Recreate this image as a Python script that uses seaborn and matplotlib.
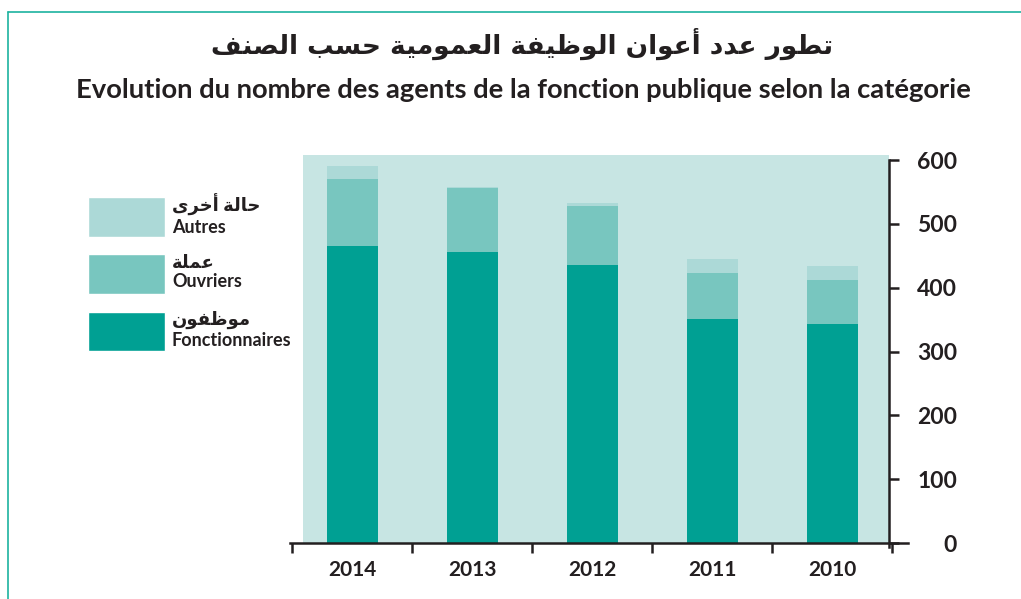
import matplotlib
matplotlib.use("Agg")
import matplotlib.pyplot as plt
import seaborn as sns
import pandas as pd
from matplotlib.lines import Line2D
from matplotlib.patches import Patch

years = ["2014", "2013", "2012", "2011", "2010"]
fonctionnaires = [465, 456, 436, 351, 343]
ouvriers = [105, 100, 92, 72, 69]
autres = [21, 2, 5, 22, 22]
yticks = [0, 100, 200, 300, 400, 500, 600]

title_ar = "تطور عدد أعوان الوظيفة العمومية حسب الصنف"
title_fr = "Evolution du nombre des agents de la fonction publique selon la catégorie"
lab_ar = ["حالة أخرى", "عملة", "موظفون"]
lab_fr = ["Autres", "Ouvriers", "Fonctionnaires"]

c_bg = "#c7e5e3"
c_fonc = "#00a093"
c_ouv = "#78c6bf"
c_aut = "#acd9d7"
c_ink = "#231f20"

# simple arabic shaping (matplotlib has no shaping / rtl)
FORMS = {
    '\u0627': (0xFE8D, 0xFE8E, None, None), '\u0623': (0xFE83, 0xFE84, None, None),
    '\u0628': (0xFE8F, 0xFE90, 0xFE91, 0xFE92), '\u0629': (0xFE93, 0xFE94, None, None),
    '\u062A': (0xFE95, 0xFE96, 0xFE97, 0xFE98), '\u062D': (0xFEA1, 0xFEA2, 0xFEA3, 0xFEA4),
    '\u062E': (0xFEA5, 0xFEA6, 0xFEA7, 0xFEA8), '\u062F': (0xFEA9, 0xFEAA, None, None),
    '\u0631': (0xFEAD, 0xFEAE, None, None), '\u0633': (0xFEB1, 0xFEB2, 0xFEB3, 0xFEB4),
    '\u0635': (0xFEB9, 0xFEBA, 0xFEBB, 0xFEBC), '\u0637': (0xFEC1, 0xFEC2, 0xFEC3, 0xFEC4),
    '\u0638': (0xFEC5, 0xFEC6, 0xFEC7, 0xFEC8), '\u0639': (0xFEC9, 0xFECA, 0xFECB, 0xFECC),
    '\u0641': (0xFED1, 0xFED2, 0xFED3, 0xFED4), '\u0644': (0xFEDD, 0xFEDE, 0xFEDF, 0xFEE0),
    '\u0645': (0xFEE1, 0xFEE2, 0xFEE3, 0xFEE4), '\u0646': (0xFEE5, 0xFEE6, 0xFEE7, 0xFEE8),
    '\u0647': (0xFEE9, 0xFEEA, 0xFEEB, 0xFEEC), '\u0648': (0xFEED, 0xFEEE, None, None),
    '\u0649': (0xFEEF, 0xFEF0, None, None), '\u064A': (0xFEF1, 0xFEF2, 0xFEF3, 0xFEF4),
}


def shape(s):
    out = []
    for i, ch in enumerate(s):
        if ch not in FORMS:
            out.append(ch)
            continue
        f = FORMS[ch]
        prev = s[i - 1] if i > 0 else ""
        nxt = s[i + 1] if i + 1 < len(s) else ""
        cp = prev in FORMS and FORMS[prev][2] is not None
        cn = f[2] is not None and nxt in FORMS
        if cp and cn:
            out.append(chr(f[3]))
        elif cp:
            out.append(chr(f[1]))
        elif cn:
            out.append(chr(f[2]))
        else:
            out.append(chr(f[0]))
    return "".join(out)[::-1]


sns.set_style("white")
plt.rcParams['font.family'] = ['Lato', 'DejaVu Sans']
plt.rcParams['font.weight'] = 'bold'

df = pd.DataFrame({"year": years, "fonc": fonctionnaires, "ouv": ouvriers, "aut": autres})
df["t2"] = df["fonc"] + df["ouv"]
df["t3"] = df["t2"] + df["aut"]

fig = plt.figure(figsize=(10.21, 5.99), dpi=100)
ax = fig.add_axes([290 / 1021, 56 / 599, 618 / 1021, 388 / 599])
ax.set_facecolor("white")
ax.axvspan(-0.408, 4.475, color=c_bg, lw=0, zorder=0)

for col, c in [("t3", c_aut), ("t2", c_ouv), ("fonc", c_fonc)]:
    sns.barplot(data=df, x="year", y=col, color=c, width=0.425, saturation=1,
                linewidth=0, ax=ax, zorder=2)

ax.set_xlim(-0.517, 4.633)
ax.set_ylim(0, 608)
ax.set_xlabel("")
ax.set_ylabel("")

for s in ["left", "top"]:
    ax.spines[s].set_visible(False)
ax.spines["right"].set_position(("data", 4.475))
ax.spines["right"].set_bounds(-6, 600)
for s in ["right", "bottom"]:
    ax.spines[s].set_linewidth(1.8)
    ax.spines[s].set_color(c_ink)

ax.yaxis.tick_right()
ax.set_yticks(yticks)
ax.set_yticklabels([str(v) for v in yticks])
ax.tick_params(axis="y", right=True, direction="out", length=7, width=1.8, color=c_ink,
               labelsize=16.5, pad=42, labelcolor=c_ink)
for t in ax.get_yticklabels():
    t.set_horizontalalignment("right")
    t.set_fontweight("bold")

ax.set_xticks(range(len(years)))
ax.set_xticklabels(years)
ax.set_xticks([i - 0.5 for i in range(len(years) + 1)], minor=True)
ax.tick_params(axis="x", which="major", bottom=False, labelsize=15, pad=9, labelcolor=c_ink)
ax.tick_params(axis="x", which="minor", bottom=True, direction="out", length=7, width=1.8, color=c_ink)
for t in ax.get_xticklabels():
    t.set_fontweight("bold")

fig.text(0.511, 1 - 44 / 599, shape(title_ar), ha="center", va="center",
         fontsize=19, fontweight="bold", family="DejaVu Sans", color=c_ink)
fig.text(0.513, 1 - 90 / 599, title_fr, ha="center", va="center",
         fontsize=19.7, fontweight="bold", color=c_ink)

handles = [Patch(facecolor=c_aut), Patch(facecolor=c_ouv), Patch(facecolor=c_fonc)]
labels = [shape(a) + "\n" + f for a, f in zip(lab_ar, lab_fr)]
leg = ax.legend(handles, labels, loc="upper left", bbox_to_anchor=(88 / 1021, 1 - 194 / 599),
                bbox_transform=fig.transFigure, frameon=False, borderpad=0, borderaxespad=0,
                handlelength=4.25, handleheight=3.0, handletextpad=0.4, labelspacing=0.95,
                prop={"size": 13, "weight": "bold"})
for t in leg.get_texts():
    t.set_color(c_ink)

# teal frame
fig.add_artist(Line2D([8 / 1021, 1], [1 - 12 / 599, 1 - 12 / 599], color="#1db3a0", lw=1.2))
fig.add_artist(Line2D([8 / 1021, 8 / 1021], [0, 1 - 12 / 599], color="#1db3a0", lw=1.2))

fig.savefig("out.png", dpi=100)
